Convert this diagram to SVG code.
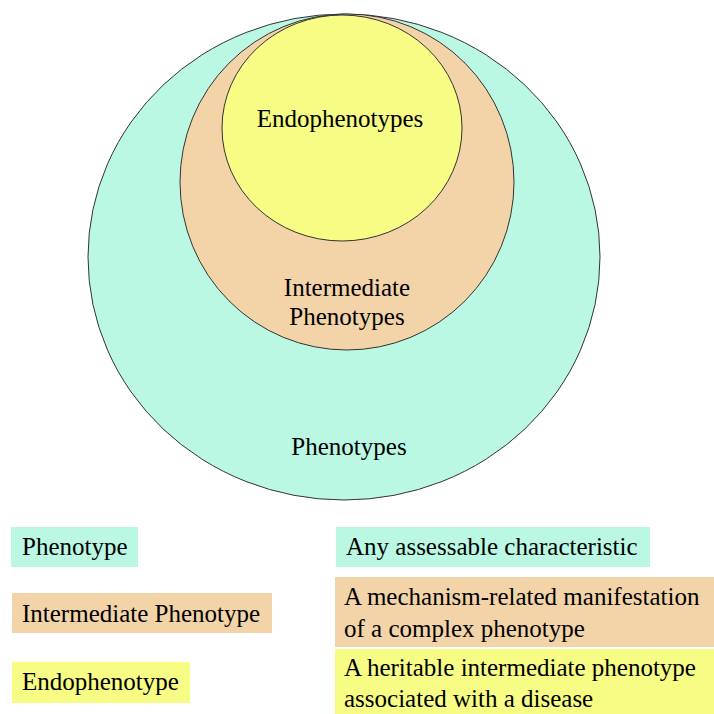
<svg xmlns="http://www.w3.org/2000/svg" width="714" height="714" viewBox="0 0 714 714" font-family="'Liberation Serif', 'Times New Roman', serif">
<style>
text{font-family:'Liberation Serif','Times New Roman',serif;font-size:25px;fill:#000}
.c{text-anchor:middle}
.ring{stroke:#333;stroke-width:1}
.teal{fill:#BAF8E4}
.tan{fill:#F3D4A8}
.yel{fill:#F6FC84}
</style>
<g id="phenotypes">
<ellipse class="ring teal" cx="344" cy="257" rx="256" ry="243"/>
<text class="c" x="349" y="455">Phenotypes</text>
</g>
<g id="intermediate-phenotypes">
<ellipse class="ring tan" cx="347" cy="182" rx="167" ry="168"/>
<text class="c" x="347" y="296">Intermediate</text>
<text class="c" x="347" y="325">Phenotypes</text>
</g>
<g id="endophenotypes">
<ellipse class="ring yel" cx="342" cy="128" rx="120" ry="113"/>
<text class="c" x="340" y="127">Endophenotypes</text>
</g>
<g id="legend">
<g id="legend-phenotype">
<rect class="teal" x="11" y="527" width="127" height="40"/>
<text x="22" y="555">Phenotype</text>
</g>
<g id="legend-phenotype-def">
<rect class="teal" x="336" y="527" width="314" height="40"/>
<text x="346" y="555">Any assessable characteristic</text>
</g>
<g id="legend-intermediate">
<rect class="tan" x="12" y="593" width="260" height="40"/>
<text x="22" y="622">Intermediate Phenotype</text>
</g>
<g id="legend-intermediate-def">
<rect class="tan" x="335" y="577" width="379" height="70"/>
<text x="344" y="605">A mechanism-related manifestation</text>
<text x="344" y="637">of a complex phenotype</text>
</g>
<g id="legend-endophenotype">
<rect class="yel" x="12" y="662" width="178" height="41"/>
<text x="22" y="690">Endophenotype</text>
</g>
<g id="legend-endophenotype-def">
<rect class="yel" x="335" y="649" width="379" height="65"/>
<text x="344" y="676">A heritable intermediate phenotype</text>
<text x="344" y="707">associated with a disease</text>
</g>
</g>
</svg>
